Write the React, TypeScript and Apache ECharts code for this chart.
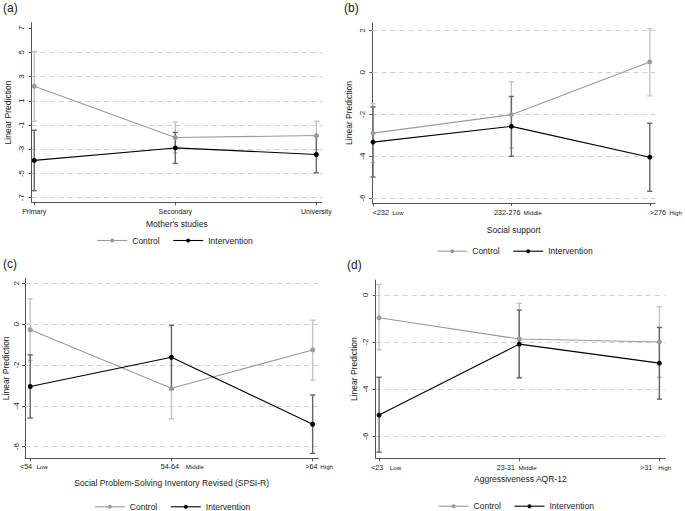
import React, { useEffect, useRef } from 'react';
import * as echarts from 'echarts';

// ---------- Data ----------
const aCategories = ['Primary', 'Secondary', 'University'];
const aControl = [2.2, -2.03, -1.87];
const aControlLo = [-0.67, -3.31, -3.04];
const aControlHi = [5.08, -0.75, -0.7];
const aIntervention = [-3.92, -2.89, -3.43];
const aInterventionLo = [-6.42, -4.17, -4.94];
const aInterventionHi = [-1.43, -1.61, -1.92];
const aYTicks = [-7, -5, -3, -1, 1, 3, 5, 7];
const aGridLines = [-7, -5, -3, -1, 1, 3, 5];

const bRanges = ['<232', '232-276', '>276'];
const bLevels = ['Low', 'Middle', 'High'];
const bControl = [-2.9, -2.02, 0.5];
const bControlLo = [-4.31, -3.62, -1.12];
const bControlHi = [-1.49, -0.45, 2.09];
const bIntervention = [-3.33, -2.58, -4.05];
const bInterventionLo = [-5.0, -4.01, -5.68];
const bInterventionHi = [-1.65, -1.15, -2.43];
const bYTicks = [-6, -4, -2, 0, 2];

const cRanges = ['<54', '54-64', '>64'];
const cLevels = ['Low', 'Middle', 'High'];
const cControl = [-0.27, -3.14, -1.26];
const cControlLo = [-1.78, -4.64, -2.74];
const cControlHi = [1.24, -1.64, 0.2];
const cIntervention = [-3.05, -1.62, -4.9];
const cInterventionLo = [-4.6, -3.2, -6.33];
const cInterventionHi = [-1.5, -0.06, -3.47];
const cYTicks = [-6, -4, -2, 0, 2];

const dRanges = ['<23', '23-31', '>31'];
const dLevels = ['Low', 'Middle', 'High'];
const dControl = [-0.97, -1.87, -2.0];
const dControlLo = [-2.33, -3.5, -3.5];
const dControlHi = [0.45, -0.35, -0.5];
const dIntervention = [-5.11, -2.09, -2.9];
const dInterventionLo = [-6.69, -3.53, -4.43];
const dInterventionHi = [-3.5, -0.64, -1.38];
const dYTicks = [-6, -4, -2, 0];

const FONT = 'Liberation Sans, Arial, sans-serif';
const TEXT = '#1a1a1a';
const AXIS = '#555';
const CONTROL_LINE = '#9a9a9a';
const CONTROL_CI = '#c4c4c4';
const INTERV_LINE = '#000000';
const INTERV_CI = '#666666';
const NUM_SIZE = 7.2;
const WORD_SIZE = 6.2;

// ---------- text measuring (for tick-label placement) ----------
let measureCtx: CanvasRenderingContext2D | null = null;
function textWidth(text: string, size: number) {
  if (!measureCtx) measureCtx = document.createElement('canvas').getContext('2d');
  if (!measureCtx) return text.length * size * 0.55;
  measureCtx.font = `${size}px ${FONT}`;
  return measureCtx.measureText(text).width;
}

// label: range text + gap + level text, starting at `start` px relative to tick
function rangeLabels(ranges: string[], levels: string[], starts: number[], gaps: number[]) {
  const rich: any = {
    n: { fontSize: NUM_SIZE, fontFamily: FONT, color: TEXT },
    w: { fontSize: WORD_SIZE, fontFamily: FONT, color: TEXT },
  };
  const labels: string[] = ranges.map((r, i) => {
    const T = textWidth(r, NUM_SIZE) + gaps[i] + textWidth(levels[i], WORD_SIZE);
    const P = 2 * starts[i] + T;
    rich[`g${i}`] = { width: gaps[i], fontSize: NUM_SIZE };
    let s = `{n|${r}}{g${i}| }{w|${levels[i]}}`;
    if (P > 0.01) {
      rich[`p${i}`] = { width: P, fontSize: NUM_SIZE };
      s = `{p${i}| }` + s;
    } else if (P < -0.01) {
      rich[`p${i}`] = { width: -P, fontSize: NUM_SIZE };
      s = s + `{p${i}| }`;
    }
    return s;
  });
  return { formatter: (v: number) => labels[Math.round(v)], rich };
}

type Panel = {
  tag: string;
  box: { left: number; top: number; width: number; height: number };
  xMin: number;
  xMax: number;
  yMin: number;
  yMax: number;
  yTicks: number[];
  gridLines: number[];
  labels: { formatter: (v: number) => string; rich: any };
  xName: string;
  xNameGap: number;
  xLabelMargin: number;
  yNameGap: number;
  yLabelMargin: number;
  control: number[];
  controlLo: number[];
  controlHi: number[];
  interv: number[];
  intervLo: number[];
  intervHi: number[];
  legend: { left: number; top: number };
  title: { left: number; top: number };
};

function makePanels(): Panel[] {
  return [
    {
      tag: '(a)',
      box: { left: 31.7, top: 22.7, width: 290.3, height: 179.6 },
      xMin: -0.018, xMax: 2.04, yMin: -7.38, yMax: 7.45,
      yTicks: aYTicks, gridLines: aGridLines,
      labels: {
        formatter: (v: number) => `{c|${aCategories[Math.round(v)]}}`,
        rich: { c: { fontSize: 7, fontFamily: FONT, color: TEXT } },
      },
      xName: "Mother's studies", xNameGap: 17, xLabelMargin: 6,
      yNameGap: 19, yLabelMargin: 6,
      control: aControl, controlLo: aControlLo, controlHi: aControlHi,
      interv: aIntervention, intervLo: aInterventionLo, intervHi: aInterventionHi,
      legend: { left: 96.7, top: 236 },
      title: { left: 3, top: 2 },
    },
    {
      tag: '(b)',
      box: { left: 372.3, top: 23, width: 288.4, height: 180 },
      xMin: -0.005, xMax: 2.038, yMin: -6.24, yMax: 2.36,
      yTicks: bYTicks, gridLines: bYTicks,
      labels: rangeLabels(bRanges, bLevels, [-0.3, -17.3, 0], [3.3, 3, 3.3]),
      xName: 'Social support', xNameGap: 22, xLabelMargin: 6,
      yNameGap: 19, yLabelMargin: 6,
      control: bControl, controlLo: bControlLo, controlHi: bControlHi,
      interv: bIntervention, intervLo: bInterventionLo, intervHi: bInterventionHi,
      legend: { left: 436.7, top: 246.7 },
      title: { left: 344, top: 2 },
    },
    {
      tag: '(c)',
      box: { left: 24, top: 278.3, width: 294.3, height: 180 },
      xMin: -0.037, xMax: 2.04, yMin: -6.57, yMax: 2.25,
      yTicks: cYTicks, gridLines: cYTicks,
      labels: rangeLabels(cRanges, cLevels, [-10.3, -10.7, -7.3], [4.3, 6.7, 2.8]),
      xName: 'Social Problem-Solving Inventory Revised (SPSI-R)', xNameGap: 20, xLabelMargin: 5,
      yNameGap: 15, yLabelMargin: 5,
      control: cControl, controlLo: cControlLo, controlHi: cControlHi,
      interv: cIntervention, intervLo: cInterventionLo, intervHi: cInterventionHi,
      legend: { left: 94.3, top: 502.3 },
      title: { left: 3, top: 258 },
    },
    {
      tag: '(d)',
      box: { left: 375.7, top: 280, width: 289.3, height: 178.3 },
      xMin: -0.024, xMax: 2.04, yMin: -6.95, yMax: 0.64,
      yTicks: dYTicks, gridLines: dYTicks,
      labels: rangeLabels(dRanges, dLevels, [-8, -22.6, -19.3], [6.5, 3.4, 6]),
      xName: 'Aggressiveness AQR-12', xNameGap: 16, xLabelMargin: 6,
      yNameGap: 17, yLabelMargin: 6,
      control: dControl, controlLo: dControlLo, controlHi: dControlHi,
      interv: dIntervention, intervLo: dInterventionLo, intervHi: dInterventionHi,
      legend: { left: 438, top: 501.7 },
      title: { left: 347, top: 259 },
    },
  ];
}

const errorBarSeries = (name: string, idx: number, lo: number[], hi: number[], color: string, z: number) => ({
  type: 'custom',
  name,
  xAxisIndex: idx,
  yAxisIndex: idx,
  z,
  silent: true,
  encode: { x: 0, y: [1, 2] },
  data: lo.map((l, i) => [i, l, hi[i]]),
  renderItem: (params: any, api: any) => {
    const x = api.value(0);
    const top = api.coord([x, api.value(2)]);
    const bot = api.coord([x, api.value(1)]);
    const w = 2.6;
    const style = { stroke: color, lineWidth: 1.4 };
    return {
      type: 'group',
      children: [
        { type: 'line', shape: { x1: top[0], y1: top[1], x2: bot[0], y2: bot[1] }, style },
        { type: 'line', shape: { x1: top[0] - w, y1: top[1], x2: top[0] + w, y2: top[1] }, style },
        { type: 'line', shape: { x1: bot[0] - w, y1: bot[1], x2: bot[0] + w, y2: bot[1] }, style },
      ],
    };
  },
});

function buildOption() {
  const panels = makePanels();
  const grid: any[] = [];
  const xAxis: any[] = [];
  const yAxis: any[] = [];
  const series: any[] = [];
  const legend: any[] = [];
  const title: any[] = [];

  panels.forEach((p, idx) => {
    grid.push({ ...p.box, containLabel: false });
    xAxis.push({
      type: 'value',
      gridIndex: idx,
      min: p.xMin,
      max: p.xMax,
      name: p.xName,
      nameLocation: 'middle',
      nameGap: p.xNameGap,
      nameTextStyle: { fontFamily: FONT, fontSize: 8.5, color: TEXT },
      axisLine: { show: true, onZero: false, lineStyle: { color: AXIS, width: 1 } },
      axisTick: { show: true, length: 3, customValues: [0, 1, 2], lineStyle: { color: AXIS } },
      axisLabel: {
        customValues: [0, 1, 2],
        margin: p.xLabelMargin,
        formatter: p.labels.formatter,
        color: TEXT,
        fontFamily: FONT,
        fontSize: NUM_SIZE,
        rich: p.labels.rich,
      },
      splitLine: { show: false },
    });
    yAxis.push({
      type: 'value',
      gridIndex: idx,
      min: p.yMin,
      max: p.yMax,
      name: 'Linear Prediction',
      nameLocation: 'middle',
      nameGap: p.yNameGap,
      nameTextStyle: { fontFamily: FONT, fontSize: 8.5, color: TEXT },
      axisLine: { show: true, onZero: false, lineStyle: { color: AXIS, width: 1 } },
      axisTick: { show: true, length: 3, customValues: p.yTicks, lineStyle: { color: AXIS } },
      axisLabel: {
        customValues: p.yTicks,
        rotate: 90,
        margin: p.yLabelMargin,
        fontSize: 8,
        fontFamily: FONT,
        color: TEXT,
      },
      splitLine: { show: false },
    });

    series.push(errorBarSeries('Control CI', idx, p.controlLo, p.controlHi, CONTROL_CI, 2));
    series.push(errorBarSeries('Intervention CI', idx, p.intervLo, p.intervHi, INTERV_CI, 3));
    series.push({
      type: 'line',
      name: 'Control',
      xAxisIndex: idx,
      yAxisIndex: idx,
      z: 4,
      data: p.control.map((v, i) => [i, v]),
      symbol: 'circle',
      symbolSize: 5,
      showSymbol: true,
      color: CONTROL_LINE,
      lineStyle: { color: CONTROL_LINE, width: 1.1 },
      itemStyle: { color: CONTROL_LINE },
      markLine: {
        silent: true,
        symbol: 'none',
        z: 1,
        label: { show: false },
        lineStyle: { color: '#cfcfcf', type: [5, 4], width: 1 },
        data: p.gridLines.map((v) => ({ yAxis: v })),
      },
    });
    series.push({
      type: 'line',
      name: 'Intervention',
      xAxisIndex: idx,
      yAxisIndex: idx,
      z: 5,
      data: p.interv.map((v, i) => [i, v]),
      symbol: 'circle',
      symbolSize: 5,
      showSymbol: true,
      color: INTERV_LINE,
      lineStyle: { color: INTERV_LINE, width: 1.1 },
      itemStyle: { color: INTERV_LINE },
    });

    legend.push({
      left: p.legend.left,
      top: p.legend.top,
      padding: 0,
      itemWidth: 30,
      itemHeight: 5,
      itemGap: 13,
      selectedMode: false,
      lineStyle: { width: 1.1 },
      textStyle: { fontFamily: FONT, fontSize: 8.5, color: TEXT },
      data: ['Control', 'Intervention'],
    });
    title.push({
      text: p.tag,
      left: p.title.left,
      top: p.title.top,
      padding: 0,
      textStyle: { fontFamily: FONT, fontSize: 12, fontWeight: 'normal', color: TEXT },
    });
  });

  return {
    animation: false,
    backgroundColor: '#ffffff',
    title,
    legend,
    grid,
    xAxis,
    yAxis,
    series,
  };
}

export default function App() {
  const ref = useRef<HTMLDivElement>(null);
  useEffect(() => {
    if (!ref.current) return;
    const chart = echarts.init(ref.current, undefined, { renderer: 'svg' });
    chart.setOption(buildOption() as any);
    return () => chart.dispose();
  }, []);
  return (
    <div
      ref={ref}
      style={{ position: 'absolute', left: 0, top: 0, width: 685, height: 511, background: '#fff' }}
    />
  );
}
